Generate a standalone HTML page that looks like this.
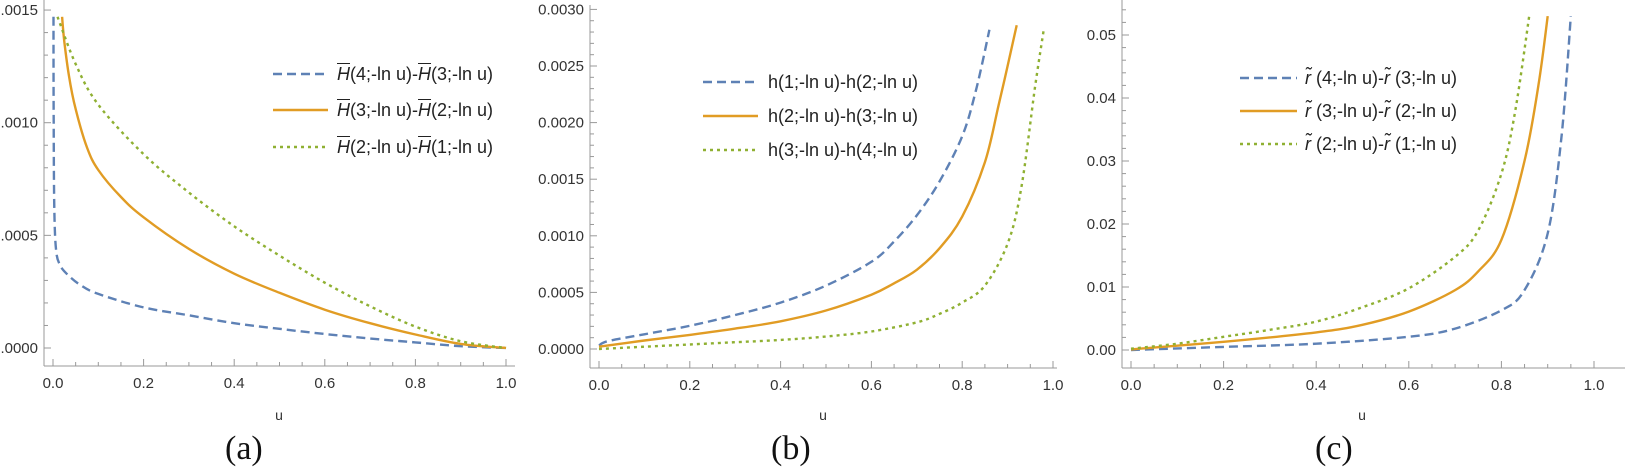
<!DOCTYPE html>
<html><head><meta charset="utf-8"><style>
body{margin:0;background:#fff;width:1625px;height:471px;overflow:hidden;position:relative;font-family:"Liberation Sans",sans-serif}
svg{position:absolute;left:0;top:0}
.lg{position:absolute;font-size:18px;color:#222;white-space:nowrap;line-height:20px}
.ob{text-decoration:overline;font-style:italic}
.it{font-style:italic}
.cap{position:absolute;font-family:"Liberation Serif",serif;font-size:34px;color:#111}
</style></head><body>
<svg id="s" width="1625" height="471" xmlns="http://www.w3.org/2000/svg"></svg>
<div class="lg" style="left:337px;top:64px"><span class="ob">H</span>(4;-ln u)-<span class="ob">H</span>(3;-ln u)</div>
<div class="lg" style="left:337px;top:100px"><span class="ob">H</span>(3;-ln u)-<span class="ob">H</span>(2;-ln u)</div>
<div class="lg" style="left:337px;top:137px"><span class="ob">H</span>(2;-ln u)-<span class="ob">H</span>(1;-ln u)</div>
<div class="lg" style="left:768px;top:72px">h(1;-ln u)-h(2;-ln u)</div>
<div class="lg" style="left:768px;top:106px">h(2;-ln u)-h(3;-ln u)</div>
<div class="lg" style="left:768px;top:140px">h(3;-ln u)-h(4;-ln u)</div>
<div class="lg" style="left:1305px;top:68px"><span class="it">r̃</span> (4;-ln u)-<span class="it">r̃</span> (3;-ln u)</div>
<div class="lg" style="left:1305px;top:101px"><span class="it">r̃</span> (3;-ln u)-<span class="it">r̃</span> (2;-ln u)</div>
<div class="lg" style="left:1305px;top:134px"><span class="it">r̃</span> (2;-ln u)-<span class="it">r̃</span> (1;-ln u)</div>
<div class="cap" style="left:225px;top:430px">(a)</div>
<div class="cap" style="left:771px;top:430px">(b)</div>
<div class="cap" style="left:1315px;top:430px">(c)</div>
<script>
const S=document.getElementById('s');let h='';
const B='#5E81B5',O='#E19C24',G='#8FB032';
function spline(pts){let d='M'+pts[0][0].toFixed(1)+','+pts[0][1].toFixed(1);
for(let i=0;i<pts.length-1;i++){const p0=pts[Math.max(i-1,0)],p1=pts[i],p2=pts[i+1],p3=pts[Math.min(i+2,pts.length-1)];
const c1=[p1[0]+(p2[0]-p0[0])/6,p1[1]+(p2[1]-p0[1])/6],c2=[p2[0]-(p3[0]-p1[0])/6,p2[1]-(p3[1]-p1[1])/6];
d+=' C'+c1.map(v=>v.toFixed(1))+' '+c2.map(v=>v.toFixed(1))+' '+p2[0].toFixed(1)+','+p2[1].toFixed(1);}return d;}
function panel(P){
const X=u=>P.x0+u*P.xs, Y=v=>P.y0-v*P.ys;
h+=`<line x1="${P.ax}" y1="${P.ytop}" x2="${P.ax}" y2="${P.axy}" stroke="#999" stroke-width="1"/>`;
h+=`<line x1="${P.ax}" y1="${P.axy}" x2="${P.xend}" y2="${P.axy}" stroke="#999" stroke-width="1"/>`;
for(let i=0;i<=20;i++){const x=X(i*0.05);const L=i%4==0?7:4;h+=`<line x1="${x}" y1="${P.axy}" x2="${x}" y2="${P.axy-L}" stroke="#999"/>`;}
for(let i=0;i<=5;i++){const x=X(i*0.2);h+=`<text x="${x}" y="${P.axy+22}" font-size="15" fill="#333" text-anchor="middle">${(i*0.2).toFixed(1)}</text>`;}
for(let k=0;k<=P.nmin;k++){const y=Y(k*P.step);if(y<P.ytop)continue;const maj=k%P.per==0;h+=`<line x1="${P.ax}" y1="${y}" x2="${P.ax+(maj?7:4)}" y2="${y}" stroke="#999"/>`;
if(maj)h+=`<text x="${P.ax-6}" y="${y+5}" font-size="15" fill="#333" text-anchor="end">${P.lab(k*P.step)}</text>`;}
h+=`<text x="${P.ux}" y="420" font-size="14" fill="#333" text-anchor="middle">u</text>`;
const st={b:`stroke="${B}" stroke-dasharray="9,5"`,o:`stroke="${O}"`,g:`stroke="${G}" stroke-dasharray="3,4"`};
for(const k of ['b','o','g']){h+=`<path d="${spline(P[k].map(p=>[X(p[0]),Y(p[1])]))}" fill="none" stroke-width="2.4" ${st[k]}/>`;
const ly=P.leg[k];h+=`<line x1="${P.lx[0]}" y1="${ly}" x2="${P.lx[1]}" y2="${ly}" stroke-width="2.6" ${st[k]}/>`;}
}
panel({x0:53,xs:453,y0:348,ys:22.53,ax:44,ytop:0,axy:366,xend:515,nmin:15,per:5,step:1,lab:k=>(k/10000).toFixed(4),ux:279,
lx:[273,328],leg:{b:74,o:110,g:147},
o:[[0.02,14.7],[0.025,13.6],[0.035,12.1],[0.05,10.6],[0.075,8.9],[0.1,7.9],[0.15,6.7],[0.2,5.8],[0.3,4.4],[0.4,3.3],[0.5,2.45],[0.6,1.7],[0.7,1.1],[0.8,0.6],[0.9,0.18],[1,0]],
g:[[0.01,14.7],[0.05,12.6],[0.1,10.8],[0.2,8.6],[0.3,6.9],[0.4,5.4],[0.5,4.1],[0.6,2.9],[0.7,1.85],[0.8,0.95],[0.9,0.3],[1,0]],
b:[[0.001,14.7],[0.0015,10],[0.003,6],[0.007,4.3],[0.015,3.7],[0.03,3.3],[0.06,2.8],[0.1,2.4],[0.2,1.8],[0.3,1.45],[0.4,1.1],[0.5,0.85],[0.6,0.62],[0.7,0.42],[0.8,0.25],[0.9,0.08],[1,0]]});
panel({x0:599,xs:454,y0:349,ys:11.32,ax:590,ytop:5,axy:368,xend:1057,nmin:30,per:5,step:1,lab:k=>(k/10000).toFixed(4),ux:823,
lx:[703,758],leg:{b:82,o:116,g:150},
b:[[0,0.3],[0.02,0.7],[0.1,1.3],[0.2,2.05],[0.3,3],[0.4,4.1],[0.5,5.6],[0.6,7.7],[0.65,9.5],[0.7,11.8],[0.75,14.8],[0.8,18.8],[0.83,22.8],[0.86,28.2]],
o:[[0,0.2],[0.1,0.75],[0.2,1.25],[0.3,1.8],[0.4,2.45],[0.5,3.4],[0.6,4.8],[0.65,5.8],[0.7,7.0],[0.75,8.9],[0.8,11.7],[0.85,16.5],[0.88,21.5],[0.9,25],[0.92,28.6]],
g:[[0,0],[0.1,0.2],[0.2,0.4],[0.3,0.6],[0.4,0.8],[0.5,1.1],[0.6,1.55],[0.7,2.35],[0.75,3.1],[0.8,4.1],[0.85,5.6],[0.9,9.3],[0.93,14.2],[0.96,23],[0.98,28.3]]});
panel({x0:1131,xs:463,y0:350,ys:63,ax:1122,ytop:0,axy:368,xend:1625,nmin:28,per:5,step:0.2,lab:k=>(k/100).toFixed(2),ux:1362,
lx:[1240,1297],leg:{b:78,o:111,g:144},
b:[[0,0],[0.2,0.05],[0.4,0.1],[0.6,0.21],[0.7,0.34],[0.8,0.63],[0.85,0.95],[0.9,1.85],[0.93,3.4],[0.95,5.3]],
o:[[0,0.01],[0.2,0.13],[0.4,0.28],[0.5,0.4],[0.6,0.61],[0.7,0.95],[0.75,1.25],[0.8,1.75],[0.85,3.0],[0.88,4.2],[0.9,5.3]],
g:[[0,0.02],[0.1,0.1],[0.2,0.21],[0.3,0.32],[0.4,0.45],[0.5,0.68],[0.6,0.98],[0.7,1.48],[0.75,1.9],[0.8,2.8],[0.83,3.8],[0.86,5.3]]});
S.innerHTML=h;
</script>
</body></html>
